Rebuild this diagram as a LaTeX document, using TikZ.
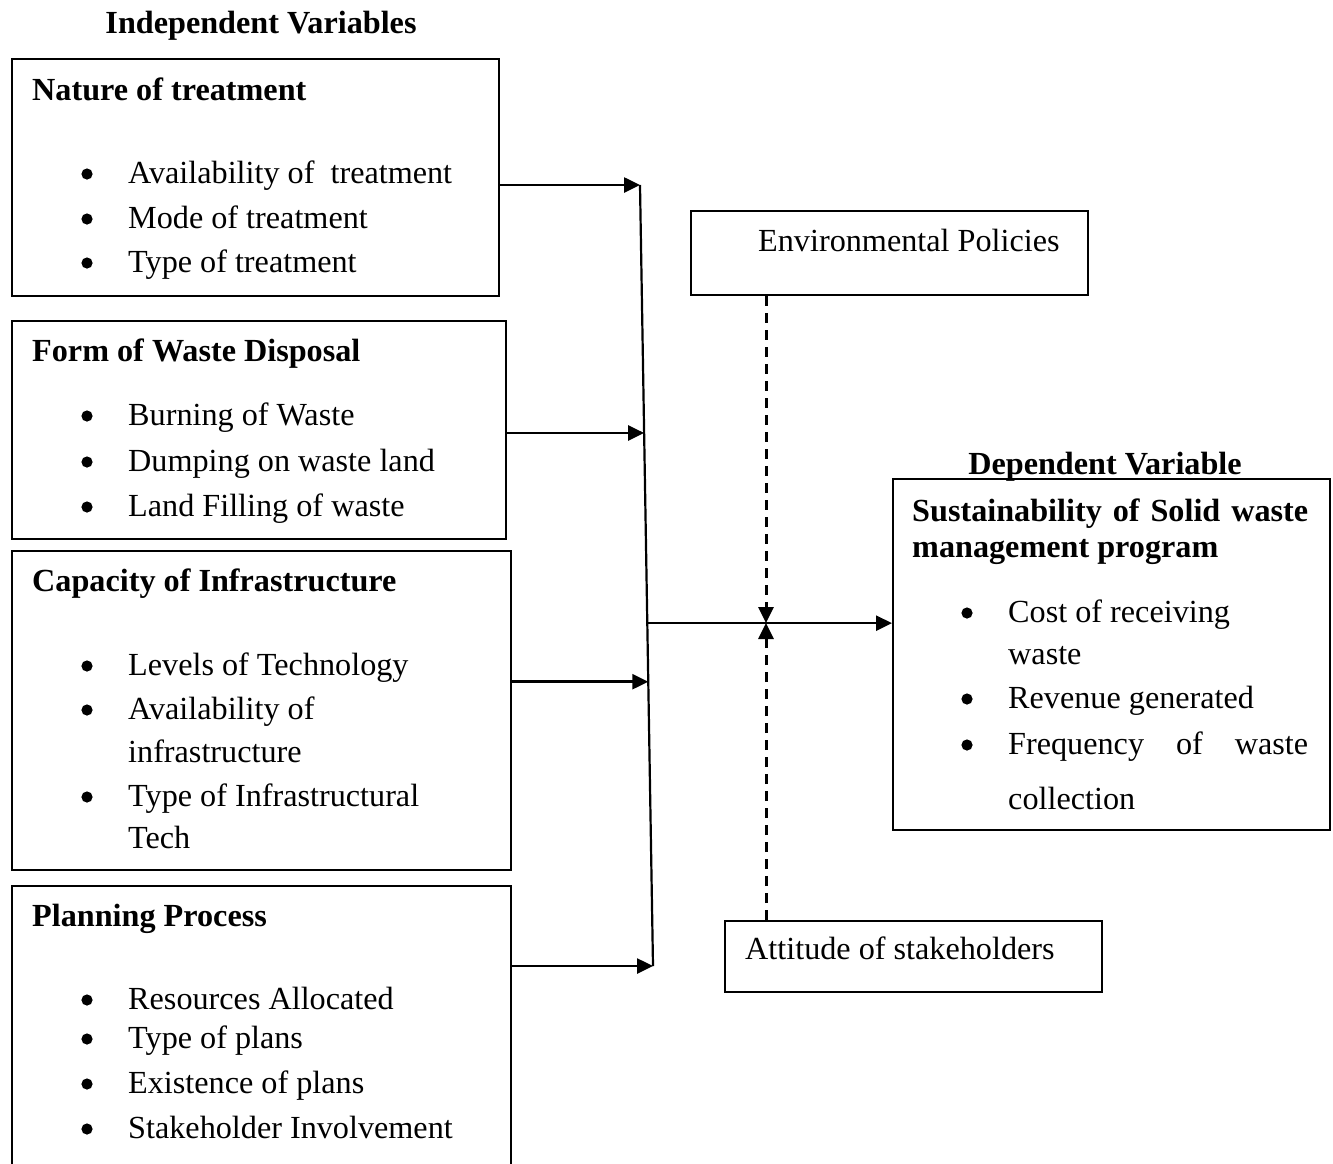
\documentclass[tikz,border=0pt]{standalone}
\usepackage{fontspec}
\setmainfont{Liberation Serif}
\usetikzlibrary{arrows.meta,calc}
\begin{document}
\begin{tikzpicture}[x=1pt,y=-1pt,
 box/.style={draw, line width=2.2pt, inner sep=0pt, anchor=north west},
 txt/.style={anchor=base west, inner sep=0pt, font=\fontsize{32.2}{38}\selectfont},
 hd/.style={anchor=base west, inner sep=0pt, font=\fontsize{32.2}{38}\selectfont\bfseries},
 arr/.style={line width=2.6pt, -{Triangle[length=16pt,width=15pt]}},
 dsh/.style={line width=3pt, dash pattern=on 10pt off 7pt, -{Triangle[length=16pt,width=15pt]}},
 ]
\useasboundingbox (0,0) rectangle (1333,1163);
\clip (0,0) rectangle (1333,1163);
\fill[white] (0,0) rectangle (1333,1163);

% boxes
\node[box, minimum width=487pt, minimum height=237pt] (b1) at (11,58) {};
\node[box, minimum width=494pt, minimum height=218pt] (b2) at (11,320) {};
\node[box, minimum width=499pt, minimum height=319pt] (b3) at (11,550) {};
\node[box, minimum width=499pt, minimum height=300pt] (b4) at (11,885) {};
\node[box, minimum width=397pt, minimum height=84pt] (env) at (690,210) {};
\node[box, minimum width=377pt, minimum height=71pt] (att) at (724,920) {};
\node[box, minimum width=437pt, minimum height=351pt] (dep) at (892,478) {};

% titles
\node[hd, anchor=base] (tind) at (261,33) {Independent Variables};
\node[hd, anchor=base] (tdep) at (1105,474) {Dependent Variable};

% box 1
\node[hd] (h1) at (32,100) {Nature of treatment};
\node[txt] (i11) at (128,183) {Availability of\hspace{8pt} treatment};
\node[txt] (i12) at (128,228) {Mode of treatment};
\node[txt] (i13) at (128,272) {Type of treatment};

% box 2
\node[hd] (h2) at (32,361) {Form of Waste Disposal};
\node[txt] (i21) at (128,425) {Burning of Waste};
\node[txt] (i22) at (128,471) {Dumping on waste land};
\node[txt] (i23) at (128,516) {Land Filling of waste};

% box 3
\node[hd] (h3) at (32,591) {Capacity of Infrastructure};
\node[txt] (i31) at (128,675) {Levels of Technology};
\node[txt] (i32) at (128,719) {Availability of};
\node[txt] (i32b) at (128,762) {infrastructure};
\node[txt] (i33) at (128,806) {Type of Infrastructural};
\node[txt] (i33b) at (128,848) {Tech};

% box 4
\node[hd] (h4) at (32,926) {Planning Process};
\node[txt] (i41) at (128,1009) {Resources Allocated};
\node[txt] (i42) at (128,1048) {Type of plans};
\node[txt] (i43) at (128,1093) {Existence of plans};
\node[txt] (i44) at (128,1138) {Stakeholder Involvement};

% bullets (left boxes)
\foreach \yy in {183,228,272,425,471,516,675,719,806,1009,1048,1093,1138}
  \fill (87,\yy-9) circle (5.6);

% env / attitude
\node[txt] (tenv) at (758,251) {Environmental Policies};
\node[txt] (tatt) at (745,959) {Attitude of stakeholders};

% dependent
\node[hd] (hd1) at (912,521) {\makebox[396pt][s]{Sustainability of Solid waste}};
\node[hd] (hd2) at (912,557) {management program};
\node[txt] (d1) at (1008,622) {Cost of receiving};
\node[txt] (d1b) at (1008,664) {waste};
\node[txt] (d2) at (1008,708) {Revenue generated};
\node[txt] (d3) at (1008,754) {\makebox[300pt][s]{Frequency of waste}};
\node[txt] (d3b) at (1008,809) {collection};
\foreach \yy in {622,708,754}
  \fill (967,\yy-9) circle (5.6);

% connectors
\coordinate (vt) at (640,185);
\coordinate (vb) at (653,966);
\draw[line width=2.2pt] (vt) -- (vb);
\coordinate (v2) at ($(vt)!0.3175!(vb)$);
\coordinate (v3) at ($(vt)!0.636!(vb)$);
\coordinate (vm) at ($(vt)!0.561!(vb)$);
\draw[arr] (b1.east |- vt) -- (vt);
\draw[arr] (b2.east |- v2) -- (v2);
\draw[arr] (b3.east |- v3) -- (v3);
\draw[arr] (b4.east |- vb) -- (vb);
\draw[arr] (vm) -- (dep.west |- vm);
\coordinate (cross) at (766,623);
\draw[dsh] (env.south -| cross) -- (cross);
\draw[dsh] (att.north -| cross) -- (cross);
\end{tikzpicture}
\end{document}
